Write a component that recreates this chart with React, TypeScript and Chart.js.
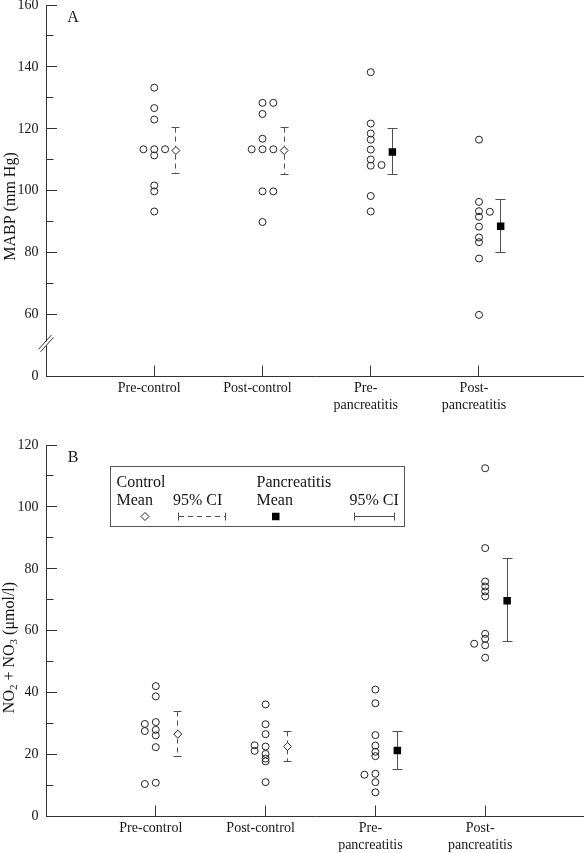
import React, { useEffect, useRef } from 'react';
import { Chart, registerables } from 'chart.js';

Chart.register(...registerables);

// ---------------- data ----------------
const groupLabels: string[][] = [
  ['Pre-control'],
  ['Post-control'],
  ['Pre-', 'pancreatitis'],
  ['Post-', 'pancreatitis'],
];

// Panel A: MABP (mm Hg)
const mabpPreControl = [133.3, 126.7, 123.0, 113.4, 113.4, 113.4, 111.4, 101.7, 99.8, 93.3];
const mabpPreControlCol = [0, 0, 0, -1, 0, 1, 0, 0, 0, 0];
const mabpPostControl = [128.4, 128.4, 124.8, 116.8, 113.4, 113.4, 113.4, 99.8, 99.8, 89.9];
const mabpPostControlCol = [0, 1, 0, 0, -1, 0, 1, 0, 1, 0];
const mabpPrePanc = [138.3, 121.7, 118.5, 116.5, 113.3, 110.1, 108.1, 108.3, 98.3, 93.3];
const mabpPrePancCol = [0, 0, 0, 0, 0, 0, 0, 1, 0, 0];
const mabpPostPanc = [116.5, 96.4, 93.4, 93.2, 91.6, 88.4, 84.9, 83.4, 78.1, 59.9];
const mabpPostPancCol = [0, 0, 0, 1, 0, 0, 0, 0, 0, 0];
const mabpMean = [113.0, 113.0, 112.5, 88.5];
const mabpCiLow = [105.6, 105.2, 105.2, 80.0];
const mabpCiHigh = [120.4, 120.4, 120.0, 97.1];
const mabpTickValues = [40, 60, 80, 100, 120, 140, 160];
const mabpTickLabels = ['0', '60', '80', '100', '120', '140', '160'];
const mabpMinorTicks = [70, 90, 110, 130, 150];
const mabpAxisBreak = 50.7;

// Panel B: NO2 + NO3 (umol/l)
const noxPreControl = [42.1, 38.8, 30.5, 28.0, 26.2, 22.4, 10.9, 29.9, 27.6, 10.5];
const noxPreControlCol = [0, 0, 0, 0, 0, 0, 0, -1, -1, -1];
const noxPostControl = [36.2, 29.8, 26.6, 22.6, 20.2, 18.7, 17.8, 11.1, 23.0, 21.2];
const noxPostControlCol = [0, 0, 0, 0, 0, 0, 0, 0, -1, -1];
const noxPrePanc = [41.0, 36.6, 26.3, 22.9, 20.9, 19.5, 13.8, 11.1, 7.8, 13.5];
const noxPrePancCol = [0, 0, 0, 0, 0, 0, 0, 0, 0, -1];
const noxPostPanc = [112.5, 86.7, 75.9, 74.3, 72.7, 71.1, 59.0, 57.4, 55.3, 51.3, 55.8];
const noxPostPancCol = [0, 0, 0, 0, 0, 0, 0, 0, 0, 0, -1];
const noxMean = [26.6, 22.6, 21.3, 69.7];
const noxCiLow = [19.3, 17.7, 15.2, 56.4];
const noxCiHigh = [33.9, 27.5, 27.6, 83.3];
const noxTickValues = [0, 20, 40, 60, 80, 100, 120];
const noxTickLabels = ['0', '20', '40', '60', '80', '100', '120'];
const noxMinorTicks = [10, 30, 50, 70, 90, 110];

// Text
const titleA = 'MABP (mm Hg)';
const titleBParts: [string, boolean][] = [
  ['NO', false], ['2', true], [' + NO', false], ['3', true], [' (\u03bcmol/l)', false],
];
const legendControl = 'Control';
const legendPanc = 'Pancreatitis';
const legendMean = 'Mean';
const legendCI = '95% CI';

// ---------------- style / layout ----------------
const FONT = "'Liberation Serif', 'Times New Roman', Times, serif";
const TEXT = '#151515';
const AXIS = '#333333';
const BAR = '#505050';
const JITTER = 0.1;
const MEAN_OFFSET = 0.2;
const DASH = [5, 4];

type Panel = {
  canvasTop: number;
  canvasH: number;
  padTop: number;
  xAxisH: number;
  xMax: number;
  yMin: number;
  yMax: number;
  yMajor: number[];
  yMajorLabels: string[];
  yMinor: number[];
  values: number[][];
  cols: number[][];
  means: number[];
  lo: number[];
  hi: number[];
  letter: string;
  letterPos: [number, number];
  titleX: number;
  titleY: number;
  kind: 'A' | 'B';
};

const panelA: Panel = {
  canvasTop: -20, canvasH: 445, padTop: 25, xAxisH: 48.5, xMax: 4.97,
  yMin: 40, yMax: 160, yMajor: mabpTickValues, yMajorLabels: mabpTickLabels, yMinor: mabpMinorTicks,
  values: [mabpPreControl, mabpPostControl, mabpPrePanc, mabpPostPanc],
  cols: [mabpPreControlCol, mabpPostControlCol, mabpPrePancCol, mabpPostPancCol],
  means: mabpMean, lo: mabpCiLow, hi: mabpCiHigh,
  letter: 'A', letterPos: [73, 22], titleX: 14.5, titleY: 206.5, kind: 'A',
};

const panelB: Panel = {
  canvasTop: 425, canvasH: 428, padTop: 20, xAxisH: 36.5, xMax: 4.9,
  yMin: 0, yMax: 120, yMajor: noxTickValues, yMajorLabels: noxTickLabels, yMinor: noxMinorTicks,
  values: [noxPreControl, noxPostControl, noxPrePanc, noxPostPanc],
  cols: [noxPreControlCol, noxPostControlCol, noxPrePancCol, noxPostPancCol],
  means: noxMean, lo: noxCiLow, hi: noxCiHigh,
  letter: 'B', letterPos: [73, 461.5], titleX: 13.5, titleY: 647.5, kind: 'B',
};

function crisp(v: number) {
  return Math.round(v - 0.5) + 0.5;
}

function drawLegend(ctx: CanvasRenderingContext2D, off: number) {
  ctx.save();
  ctx.strokeStyle = '#555';
  ctx.lineWidth = 1;
  ctx.strokeRect(110.5, 466.5 - off, 294, 60);
  ctx.fillStyle = TEXT;
  ctx.font = `16px ${FONT}`;
  ctx.textBaseline = 'alphabetic';
  ctx.textAlign = 'left';
  ctx.fillText(legendControl, 116.5, 486.5 - off);
  ctx.fillText(legendMean, 116.5, 505 - off);
  ctx.fillText(legendCI, 173, 505 - off);
  ctx.fillText(legendPanc, 256.5, 486.5 - off);
  ctx.fillText(legendMean, 256.5, 505 - off);
  ctx.fillText(legendCI, 349.5, 505 - off);
  const sy = 516.5 - off;
  // diamond
  ctx.strokeStyle = '#222';
  ctx.fillStyle = '#fff';
  ctx.beginPath();
  ctx.moveTo(145 - 4, sy);
  ctx.lineTo(145, sy - 4);
  ctx.lineTo(145 + 4, sy);
  ctx.lineTo(145, sy + 4);
  ctx.closePath();
  ctx.fill();
  ctx.stroke();
  // dashed CI
  ctx.strokeStyle = BAR;
  ctx.beginPath();
  ctx.moveTo(178.5, sy - 4);
  ctx.lineTo(178.5, sy + 4);
  ctx.moveTo(225.5, sy - 4);
  ctx.lineTo(225.5, sy + 4);
  ctx.stroke();
  ctx.setLineDash(DASH);
  ctx.beginPath();
  ctx.moveTo(179, sy);
  ctx.lineTo(225, sy);
  ctx.stroke();
  ctx.setLineDash([]);
  // square
  ctx.fillStyle = '#000';
  ctx.fillRect(272, sy - 3.75, 7.5, 7.5);
  // solid CI
  ctx.beginPath();
  ctx.moveTo(354.5, sy - 4);
  ctx.lineTo(354.5, sy + 4);
  ctx.moveTo(394.5, sy - 4);
  ctx.lineTo(394.5, sy + 4);
  ctx.moveTo(354.5, sy);
  ctx.lineTo(394.5, sy);
  ctx.stroke();
  ctx.restore();
}

function makeChart(canvas: HTMLCanvasElement, p: Panel) {
  const points: { x: number; y: number }[] = [];
  p.values.forEach((arr, gi) =>
    arr.forEach((v, k) => points.push({ x: gi + 1 + p.cols[gi][k] * JITTER, y: v }))
  );
  const ctrlMeans = [0, 1].map((gi) => ({ x: gi + 1 + MEAN_OFFSET, y: p.means[gi] }));
  const pancMeans = [2, 3].map((gi) => ({ x: gi + 1 + MEAN_OFFSET, y: p.means[gi] }));
  const off = p.canvasTop;

  const decor = {
    id: 'decor',
    beforeDatasetsDraw(chart: any) {
      const { ctx, chartArea, scales } = chart;
      const xs = scales.x;
      const ys = scales.y;
      ctx.save();
      ctx.strokeStyle = AXIS;
      ctx.lineWidth = 1;
      const left = chartArea.left;
      const bottom = chartArea.bottom;
      ctx.beginPath();
      p.yMajor.forEach((v) => {
        if (v === p.yMin) return;
        const py = crisp(ys.getPixelForValue(v));
        ctx.moveTo(left, py);
        ctx.lineTo(left + 11, py);
      });
      p.yMinor.forEach((v) => {
        const py = crisp(ys.getPixelForValue(v));
        ctx.moveTo(left, py);
        ctx.lineTo(left + 7.5, py);
      });
      groupLabels.forEach((_, i) => {
        const px = crisp(xs.getPixelForValue(i + 1));
        ctx.moveTo(px, bottom);
        ctx.lineTo(px, bottom - 11);
      });
      ctx.stroke();

      // confidence intervals
      ctx.strokeStyle = BAR;
      p.means.forEach((_, gi) => {
        const control = gi < 2;
        const px = crisp(xs.getPixelForValue(gi + 1 + MEAN_OFFSET));
        const yLo = ys.getPixelForValue(p.lo[gi]);
        const yHi = ys.getPixelForValue(p.hi[gi]);
        const cap = control ? 4 : 5;
        ctx.setLineDash(control ? DASH : []);
        ctx.beginPath();
        ctx.moveTo(px, yHi);
        ctx.lineTo(px, yLo);
        ctx.stroke();
        ctx.setLineDash([]);
        ctx.beginPath();
        ctx.moveTo(px - cap, crisp(yHi));
        ctx.lineTo(px + cap, crisp(yHi));
        ctx.moveTo(px - cap, crisp(yLo));
        ctx.lineTo(px + cap, crisp(yLo));
        ctx.stroke();
      });
      ctx.restore();
    },
    afterDraw(chart: any) {
      const { ctx, chartArea, scales } = chart;
      const ys = scales.y;
      ctx.save();
      ctx.fillStyle = TEXT;
      // panel letter
      ctx.font = `16px ${FONT}`;
      ctx.textAlign = 'center';
      ctx.textBaseline = 'alphabetic';
      ctx.fillText(p.letter, p.letterPos[0], p.letterPos[1] - off);

      // axis title
      ctx.save();
      ctx.translate(p.titleX, p.titleY - off);
      ctx.rotate(-Math.PI / 2);
      ctx.textAlign = 'left';
      if (p.kind === 'A') {
        ctx.font = `16px ${FONT}`;
        const w = ctx.measureText(titleA).width;
        ctx.fillText(titleA, -w / 2, 0);
      } else {
        const widths = titleBParts.map(([t, sub]) => {
          ctx.font = `${sub ? 11 : 16}px ${FONT}`;
          return ctx.measureText(t).width;
        });
        const total = widths.reduce((a, b) => a + b, 0);
        let x = -total / 2;
        titleBParts.forEach(([t, sub], i) => {
          ctx.font = `${sub ? 11 : 16}px ${FONT}`;
          ctx.fillText(t, x, sub ? 3.5 : 0);
          x += widths[i];
        });
      }
      ctx.restore();

      if (p.kind === 'A') {
        // axis break
        const by = ys.getPixelForValue(mabpAxisBreak);
        const ax = chartArea.left;
        ctx.fillStyle = '#ffffff';
        ctx.fillRect(ax - 1.5, by - 2, 3.5, 4);
        ctx.strokeStyle = AXIS;
        ctx.lineWidth = 1;
        ctx.beginPath();
        ctx.moveTo(ax - 7.5, by + 6);
        ctx.lineTo(ax + 5.5, by - 8.5);
        ctx.moveTo(ax - 5.5, by + 8.5);
        ctx.lineTo(ax + 7.5, by - 6);
        ctx.stroke();
      } else {
        drawLegend(ctx, off);
      }
      ctx.restore();
    },
  };

  return new Chart(canvas, {
    type: 'scatter',
    data: {
      datasets: [
        {
          data: points,
          pointStyle: 'circle',
          pointRadius: 3.5,
          borderColor: '#222',
          borderWidth: 1,
          backgroundColor: 'rgba(0,0,0,0)',
        },
        {
          data: ctrlMeans,
          pointStyle: 'rectRot',
          pointRadius: 4,
          borderColor: '#222',
          borderWidth: 1,
          backgroundColor: '#ffffff',
        },
        {
          data: pancMeans,
          pointStyle: 'rect',
          pointRadius: 5.3,
          borderWidth: 0,
          backgroundColor: '#000000',
        },
      ],
    } as any,
    options: {
      responsive: false,
      animation: false,
      devicePixelRatio: 1,
      events: [],
      layout: { autoPadding: false, padding: { top: p.padTop, left: 0, right: 0, bottom: 0 } },
      plugins: { legend: { display: false }, tooltip: { enabled: false } },
      scales: {
        x: {
          type: 'linear',
          min: 0,
          max: p.xMax,
          grid: { display: false, drawTicks: false },
          border: { display: true, color: AXIS, width: 1 },
          afterBuildTicks: (s: any) => {
            s.ticks = groupLabels.map((_, i) => ({ value: i + 1 }));
          },
          afterFit: (s: any) => {
            s.height = p.xAxisH;
          },
          ticks: {
            autoSkip: false,
            maxRotation: 0,
            minRotation: 0,
            padding: 3.5,
            labelOffset: -5,
            color: TEXT,
            font: { family: FONT, size: 14 },
            callback: (v: any) => groupLabels[Math.round(v) - 1] ?? '',
          },
        },
        y: {
          type: 'linear',
          min: p.yMin,
          max: p.yMax,
          grid: { display: false, drawTicks: false },
          border: { display: true, color: AXIS, width: 1 },
          afterBuildTicks: (s: any) => {
            s.ticks = p.yMajor.map((v) => ({ value: v }));
          },
          afterFit: (s: any) => {
            s.width = 46;
          },
          ticks: {
            padding: 7.5,
            color: TEXT,
            font: { family: FONT, size: 14 },
            callback: (v: any) => {
              const i = p.yMajor.indexOf(Number(v));
              return i >= 0 ? p.yMajorLabels[i] : '';
            },
          },
        },
      },
    } as any,
    plugins: [decor],
  });
}

export default function App() {
  const refA = useRef<HTMLCanvasElement>(null);
  const refB = useRef<HTMLCanvasElement>(null);

  useEffect(() => {
    const a = makeChart(refA.current!, panelA);
    const b = makeChart(refB.current!, panelB);
    return () => {
      a.destroy();
      b.destroy();
    };
  }, []);

  const canvasStyle = (p: Panel): React.CSSProperties => ({
    position: 'absolute',
    left: 0,
    top: p.canvasTop,
    width: 584,
    height: p.canvasH,
    display: 'block',
  });

  return (
    <div
      style={{
        position: 'absolute',
        left: 0,
        top: 0,
        width: 584,
        height: 853,
        overflow: 'hidden',
        background: '#ffffff',
      }}
    >
      <canvas ref={refA} width={584} height={panelA.canvasH} style={canvasStyle(panelA)} />
      <canvas ref={refB} width={584} height={panelB.canvasH} style={canvasStyle(panelB)} />
    </div>
  );
}
